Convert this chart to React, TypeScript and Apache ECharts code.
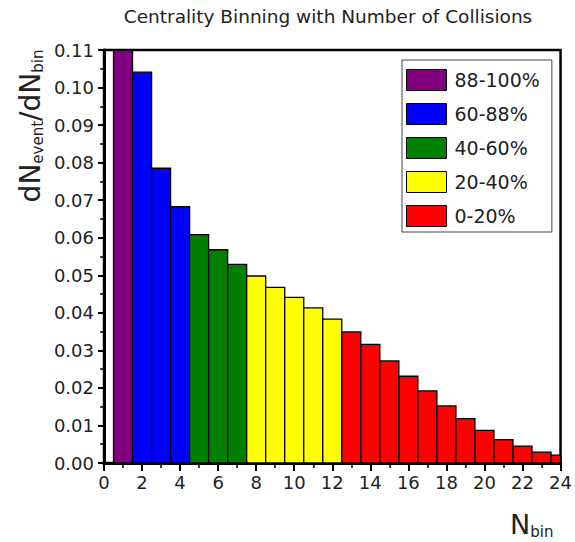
import React, { useEffect, useRef } from "react";
import * as echarts from "echarts";

const nbin = [1, 2, 3, 4, 5, 6, 7, 8, 9, 10, 11, 12, 13, 14, 15, 16, 17, 18, 19, 20, 21, 22, 23, 24];
const values = [
  0.11, 0.1041, 0.0785, 0.0683, 0.0608, 0.0568, 0.0529, 0.0498, 0.0468, 0.0441, 0.0413, 0.0383,
  0.0349, 0.0316, 0.0272, 0.0231, 0.0192, 0.0152, 0.0118, 0.0087, 0.0062, 0.0045, 0.0029, 0.0021,
];
const classNames = ["88-100%", "60-88%", "40-60%", "20-40%", "0-20%"];
const classColors = ["#800080", "#0000FF", "#008000", "#FFFF00", "#FF0000"];
const classOfBin = [0, 1, 1, 1, 2, 2, 2, 3, 3, 3, 3, 3, 4, 4, 4, 4, 4, 4, 4, 4, 4, 4, 4, 4];

const FONT = "DejaVu Sans";

export default function App() {
  const ref = useRef<HTMLDivElement>(null);
  useEffect(() => {
    if (!ref.current) return;
    const chart = echarts.init(ref.current, null, { renderer: "svg" });
    const series = classNames.map((name, ci) => ({
      type: "custom",
      name,
      itemStyle: { color: classColors[ci], borderColor: "#000", borderWidth: 1 },
      data: nbin
        .map((x, i) => [x, values[i], classOfBin[i]])
        .filter((d) => d[2] === ci)
        .map((d) => [d[0], d[1]]),
      renderItem: (params: any, api: any) => {
        const x = api.value(0);
        const y = api.value(1);
        const p0 = api.coord([x - 0.5, y]);
        const p1 = api.coord([x + 0.5, 0]);
        const cs = params.coordSys;
        const shape = echarts.graphic.clipRectByRect(
          { x: p0[0], y: p0[1], width: p1[0] - p0[0], height: p1[1] - p0[1] },
          { x: cs.x, y: cs.y, width: cs.width, height: cs.height }
        );
        if (!shape) return null;
        return {
          type: "rect",
          shape,
          style: { fill: classColors[ci], stroke: "#000", lineWidth: 1.3 },
        };
      },
    }));
    chart.setOption({
      animation: false,
      backgroundColor: "#fff",
      grid: {
        left: 104,
        top: 50,
        width: 458,
        height: 413,
        show: true,
        borderColor: "#000",
        borderWidth: 2.5,
        backgroundColor: "transparent",
      },
      legend: {
        orient: "vertical",
        left: 402,
        top: 60,
        padding: [9, 12, 5, 4],
        itemWidth: 40,
        itemHeight: 21,
        itemGap: 12,
        borderColor: "#444",
        borderWidth: 1,
        icon: "rect",
        itemStyle: { borderColor: "#000", borderWidth: 1 },
        textStyle: { fontFamily: FONT, fontSize: 19, lineHeight: 21, color: "#222", padding: [0, 0, 0, 3] },
        data: classNames,
      },
      xAxis: {
        type: "value",
        min: 0,
        max: 24,
        interval: 2,
        axisLine: { lineStyle: { color: "#000", width: 3 } },
        axisTick: { length: 8, lineStyle: { color: "#000", width: 2 } },
        minorTick: { show: true, splitNumber: 2, length: 5, lineStyle: { color: "#000", width: 1.5 } },
        splitLine: { show: false },
        axisLabel: { fontFamily: FONT, fontSize: 18, color: "#222", margin: 10 },
      },
      yAxis: {
        type: "value",
        min: 0,
        max: 0.11,
        interval: 0.01,
        axisLine: { lineStyle: { color: "#000", width: 3 } },
        axisTick: { length: 6, lineStyle: { color: "#000", width: 2 } },
        minorTick: { show: true, splitNumber: 2, length: 4, lineStyle: { color: "#000", width: 1.5 } },
        splitLine: { show: false },
        axisLabel: {
          fontFamily: FONT,
          fontSize: 18,
          color: "#222",
          margin: 10,
          formatter: (v: number) => v.toFixed(2),
        },
      },
      graphic: [
        {
          type: "text",
          x: 328,
          y: 16,
          style: {
            text: "Centrality Binning with Number of Collisions",
            fontFamily: FONT,
            fontSize: 18.5,
            fill: "#222",
            align: "center",
            verticalAlign: "middle",
          },
        },
        {
          type: "text",
          x: 30,
          y: 126,
          rotation: Math.PI / 2,
          style: {
            text: "{a|dN}{b|event}{a|/dN}{b|bin}",
            align: "center",
            verticalAlign: "middle",
            fill: "#222",
            rich: {
              a: { fontFamily: FONT, fontSize: 28, lineHeight: 31, fill: "#222" },
              b: { fontFamily: FONT, fontSize: 15, lineHeight: 15, verticalAlign: "bottom", fill: "#222" },
            },
          },
        },
        {
          type: "text",
          x: 510,
          y: 524,
          style: {
            text: "{a|N}{b|bin}",
            align: "left",
            verticalAlign: "middle",
            fill: "#222",
            rich: {
              a: { fontFamily: FONT, fontSize: 27, lineHeight: 30, fill: "#222" },
              b: { fontFamily: FONT, fontSize: 15, lineHeight: 15, verticalAlign: "bottom", fill: "#222" },
            },
          },
        },
      ],
      series,
    });
    return () => chart.dispose();
  }, []);
  return (
    <div
      ref={ref}
      style={{ position: "fixed", left: 0, top: 0, width: 575, height: 542, background: "#fff" }}
    />
  );
}
